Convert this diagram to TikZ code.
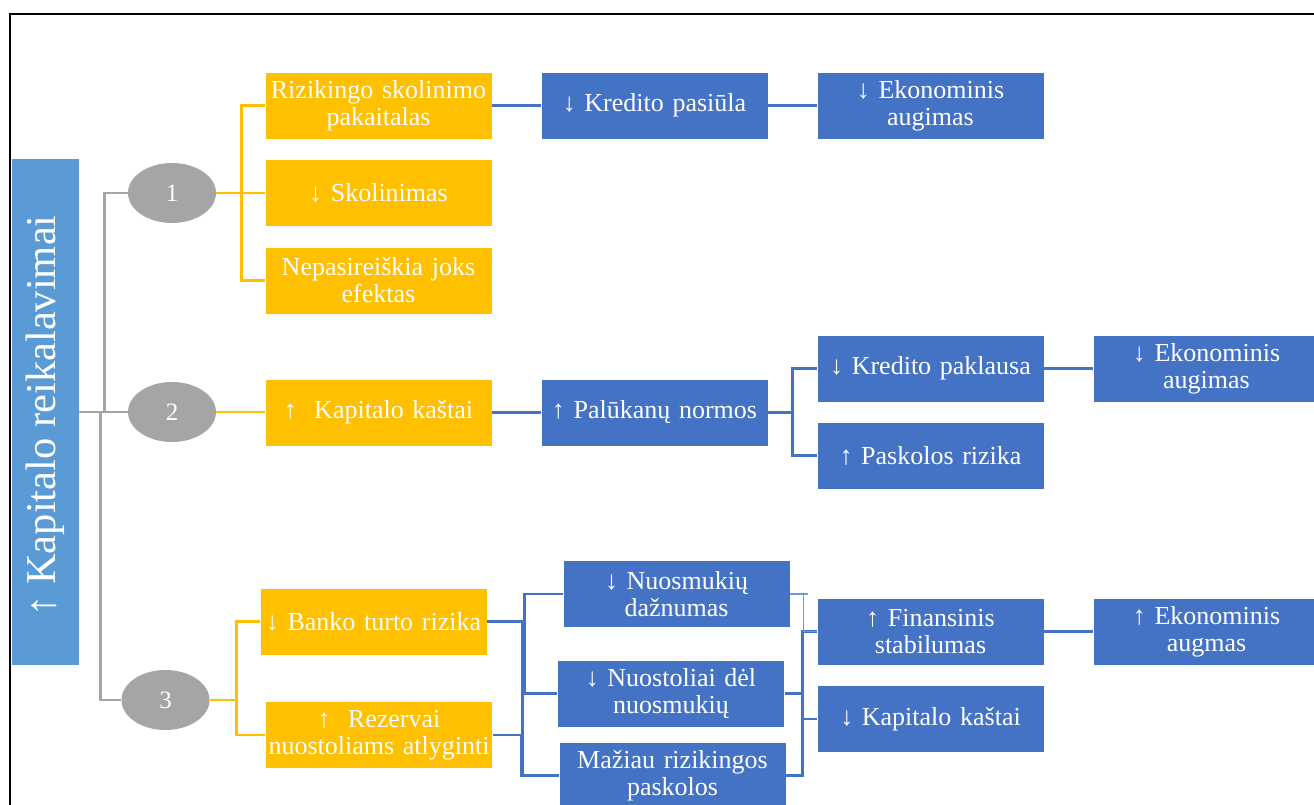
\documentclass[tikz,border=0pt]{standalone}
\usepackage{fontspec}
\setmainfont{Liberation Serif}
\usetikzlibrary{shapes.geometric}
\definecolor{gold}{HTML}{FFC000}
\definecolor{corp}{HTML}{4472C4}
\definecolor{sky}{HTML}{5B9BD5}
\definecolor{stone}{HTML}{A5A5A5}
\tikzset{
  box/.style={rectangle, draw=white, line width=0.6pt, minimum width=227pt,
    minimum height=67pt, inner sep=0pt, text width=226pt, align=center,
    text=white, font=\fontsize{26}{27}\selectfont},
  ybox/.style={box, fill=gold},
  bbox/.style={box, fill=corp},
  num/.style={ellipse, fill=stone, minimum width=88pt, minimum height=60pt,
    inner sep=0pt, text=white, font=\fontsize{25}{25}\selectfont},
  gline/.style={draw=stone, line width=2.7pt},
  yline/.style={draw=gold, line width=2.7pt},
  bline/.style={draw=corp, line width=2.7pt},
  hairline/.style={draw=corp!75!white, line width=1.2pt},
}
\begin{document}
\begin{tikzpicture}[x=1pt,y=-1pt]
\useasboundingbox (0,0) rectangle (1314,805);
% outer frame
\draw[black, line width=2pt] (10,805) -- (10,14) -- (1314,14);

% root
\node[rectangle, fill=sky, minimum width=67pt, minimum height=506pt, inner sep=0pt] (root) at (45.5,412) {};
\node[rotate=90, text=white, inner sep=0pt, font=\fontsize{42.5}{42.5}\selectfont] (rootlabel) at ([yshift=-4pt]root.center) {↑ Kapitalo reikalavimai};

% numbered channels
\node[num] (E1) at (172,193) {1};
\node[num] (E2) at (172,412) {2};
\node[num] (E3) at (165.5,700) {3};

% first-level effects
\node[ybox] (Y1) at (378.5,105.5) {Rizikingo skolinimo\\pakaitalas};
\node[ybox] (Y2) at (378.5,192.5) {↓ Skolinimas};
\node[ybox] (Y3) at (378.5,280.5) {Nepasireiškia joks\\efektas};
\node[ybox] (Y4) at (378.5,412.5) {↑~ Kapitalo kaštai};
\node[ybox] (Y5) at (373.5,621.5) {↓ Banko turto rizika};
\node[ybox] (Y6) at (379,735) {↑~ Rezervai\\nuostoliams atlyginti};

% further effects
\node[bbox] (B1) at (654.5,105.5) {↓ Kredito pasiūla};
\node[bbox] (B2) at (930.5,105.5) {↓ Ekonominis\\augimas};
\node[bbox] (B3) at (654.5,412.5) {↑ Palūkanų normos};
\node[bbox] (B4) at (930.5,368.5) {↓ Kredito paklausa};
\node[bbox] (B5) at (1206.5,368.5) {↓ Ekonominis\\augimas};
\node[bbox] (B6) at (930.5,455.5) {↑ Paskolos rizika};
\node[bbox] (B7) at (676.5,594) {↓ Nuosmukių\\dažnumas};
\node[bbox] (B8) at (671,693.5) {↓ Nuostoliai dėl\\nuosmukių};
\node[bbox] (B9) at (672.5,775.5) {Mažiau rizikingos\\paskolos};
\node[bbox] (B10) at (930.5,631.5) {↑ Finansinis\\stabilumas};
\node[bbox] (B11) at (1206.5,631.5) {↑ Ekonominis\\augmas};
\node[bbox] (B12) at (930.5,719) {↓ Kapitalo kaštai};

% root to channels
\draw[gline] (root.east) -- (E2.west);
\draw[gline] (root.east) -- ++(25,0) |- (E1.west);
\draw[gline] (root.east) -- ++(21,0) |- (E3.west);

% channels to first-level effects
\draw[yline] (E1.east) -- (E1.east -| Y2.west);
\draw[yline] (E1.east) -- ++(25,0) |- (Y1.west);
\draw[yline] (E1.east) -- ++(25,0) |- (Y3.west);
\draw[yline] (E2.east) -- (E2.east -| Y4.west);
\draw[yline] (E3.east) -- ++(26.5,0) |- (Y5.west);
\draw[yline] (E3.east) -- ++(26.5,0) |- (Y6.west);

% chains
\draw[bline] (Y1.east) -- (B1.west);
\draw[bline] (B1.east) -- (B2.west);
\draw[bline] (Y4.east) -- (B3.west);
\draw[bline] (B3.east) -- ++(24,0) |- (B4.west);
\draw[bline] (B3.east) -- ++(24,0) |- (B6.west);
\draw[bline] (B4.east) -- (B5.west);
\draw[bline] (Y5.east) -- ++(37,0) |- (B7.west);
\draw[bline] (Y5.east) -- ++(37,0) |- (B8.west);
\draw[bline] (Y5.east) -- ++(35,0) |- (B9.west);
\draw[bline] (Y6.east) -- ++(29,0) |- (B9.west);
\draw[bline] (B8.east) -- ++(18,0) |- (B10.west);
\draw[bline] (B8.east) -- ++(18,0) |- (B12.west);
\draw[bline] (B9.east) -- ++(16,0) |- (B10.west);
\draw[bline] (B9.east) -- ++(16,0) |- (B12.west);
\draw[hairline] (B7.east) -- ++(18,0);
\draw[hairline] ([xshift=13pt]B7.east) |- (B10.west);
\draw[bline] (B10.east) -- (B11.west);
\end{tikzpicture}
\end{document}
